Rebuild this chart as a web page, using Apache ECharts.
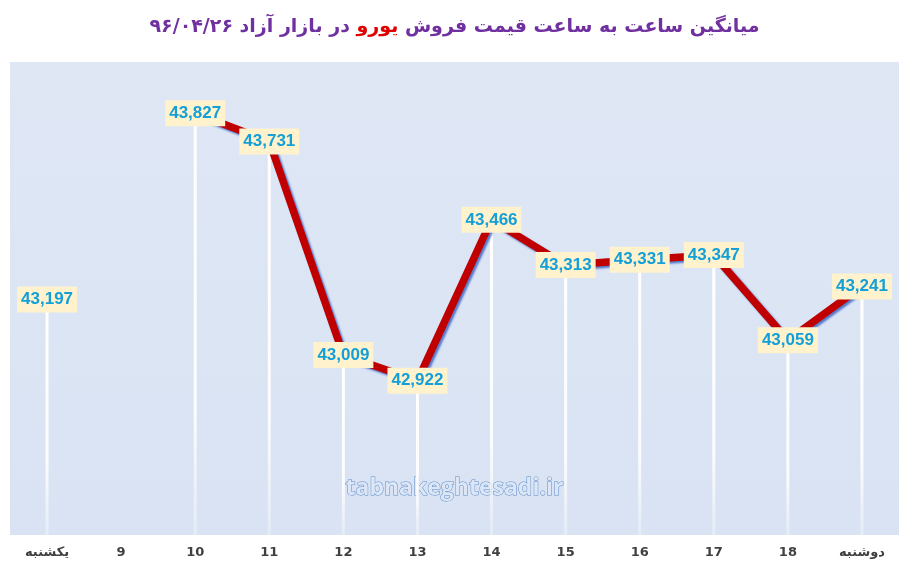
<!DOCTYPE html>
<html>
<head>
<meta charset="utf-8">
<script src="https://cdn.jsdelivr.net/npm/echarts@6/dist/echarts.min.js"></script>
<style>
html, body { margin: 0; padding: 0; background: #ffffff; }
#chart { width: 909px; height: 566px; }
</style>
</head>
<body>
<div id="chart"></div>
<script>
// داده ها
var categories = ['یکشنبه', '9', '10', '11', '12', '13', '14', '15', '16', '17', '18', 'دوشنبه'];
var prices = [43197, null, 43827, 43731, 43009, 42922, 43466, 43313, 43331, 43347, 43059, 43241];

var myChart = echarts.init(document.getElementById('chart'));

var option = {
    animation: false,
    title: {
        left: 'center',
        top: 13,
        text: '{p|در بازار آزاد ۹۶/۰۴/۲۶ }{r|یورو}{p| میانگین ساعت به ساعت قیمت فروش}',
        textStyle: {
            rich: {
                p: { color: '#7030a0', fontSize: 19, fontWeight: 'bold', fontFamily: 'DejaVu Sans' },
                r: { color: '#e00000', fontSize: 19, fontWeight: 'bold', fontFamily: 'DejaVu Sans' }
            }
        }
    },
    grid: {
        left: 10,
        right: 10,
        top: 62,
        bottom: 31,
        show: true,
        borderWidth: 0,
        backgroundColor: new echarts.graphic.LinearGradient(0, 0, 0, 1, [
            { offset: 0, color: '#dfe7f5' },
            { offset: 1, color: '#d9e3f3' }
        ])
    },
    graphic: [{
        type: 'text',
        left: 'center',
        top: 476,
        z: 1,
        style: {
            text: 'tabnakeghtesadi.ir',
            font: 'bold 23px "Open Sans"',
            fill: '#dbe7f7',
            stroke: '#5f8cc8',
            lineWidth: 1,
            shadowColor: '#ffffff',
            shadowBlur: 10
        }
    }],
    xAxis: {
        type: 'category',
        data: categories,
        axisLine: { show: false },
        axisTick: { show: false },
        axisLabel: {
            margin: 11,
            color: '#404040',
            fontSize: 13,
            fontWeight: 'bold',
            fontFamily: 'DejaVu Sans'
        }
    },
    yAxis: {
        type: 'value',
        min: 42400,
        max: 44000,
        show: false,
        splitLine: { show: false }
    },
    series: [{
        // خطوط عمودی
        type: 'bar',
        data: prices,
        barWidth: 3,
        z: 2,
        itemStyle: {
            color: new echarts.graphic.LinearGradient(0, 0, 0, 1, [
                { offset: 0, color: 'rgba(255,255,255,1)' },
                { offset: 0.7, color: 'rgba(255,255,255,0.9)' },
                { offset: 1, color: 'rgba(255,255,255,0.3)' }
            ])
        }
    }, {
        type: 'line',
        data: prices,
        connectNulls: false,
        showSymbol: false,
        symbol: 'none',
        z: 3,
        lineStyle: {
            color: '#c00000',
            width: 7.5,
            shadowColor: 'rgba(70,110,200,0.9)',
            shadowOffsetX: 2,
            shadowOffsetY: 2,
            shadowBlur: 2
        }
    }, {
        type: 'scatter',
        data: prices,
        symbol: 'rect',
        symbolSize: 1,
        z: 5,
        itemStyle: { color: '#fff2cc', opacity: 1 },
        emphasis: { disabled: true },
        label: {
            show: true,
            position: 'inside',
            formatter: function (p) {
                return echarts.format.addCommas(p.value);
            },
            color: '#139fd8',
            fontSize: 17,
            fontWeight: 'bold',
            fontFamily: 'Liberation Sans',
            backgroundColor: '#fff2cc',
            padding: [5, 4, 4, 4]
        }
    }]
};

myChart.setOption(option);
window.onresize = function () {
    myChart.resize();
};
</script>
</body>
</html>
